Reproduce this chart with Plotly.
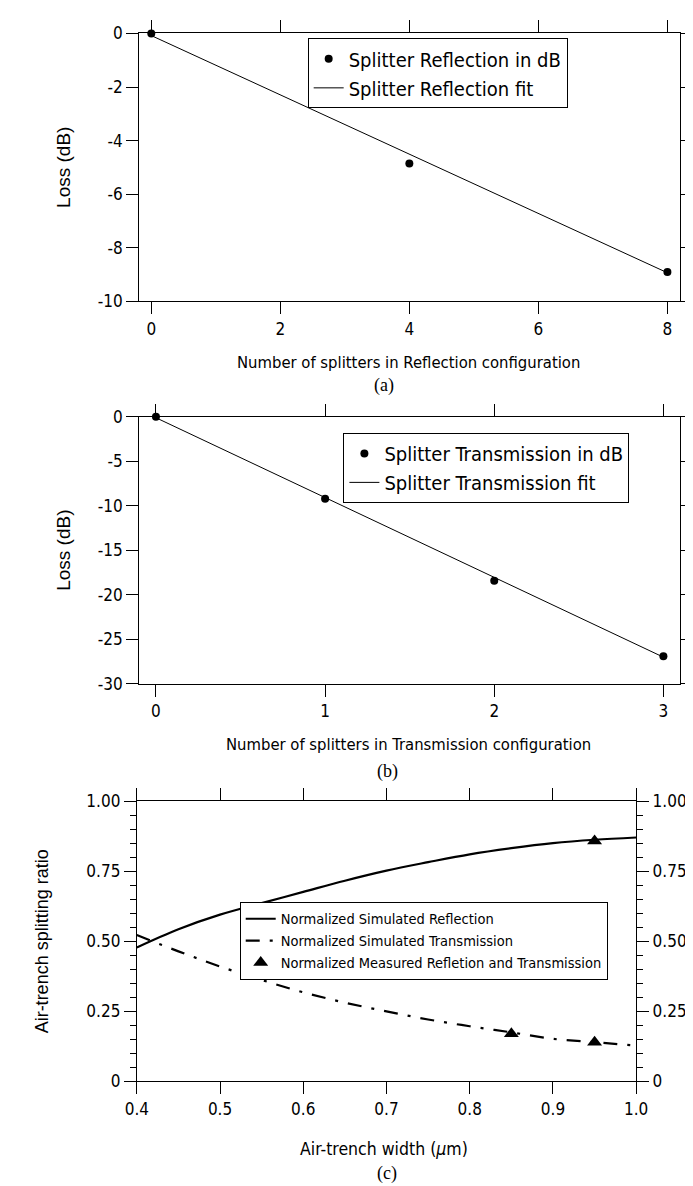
import plotly.graph_objects as go

# ---------------- data ----------------
# (a) reflection configuration
refl_splitters = [0, 4, 8]
refl_loss_db = [0.0, -4.85, -8.9]
refl_fit_x = [0, 8]
refl_fit_y = [-0.08, -8.93]
refl_ticks_x = [0, 2, 4, 6, 8]
refl_ticks_y = [0, -2, -4, -6, -8, -10]

# (b) transmission configuration
trans_splitters = [0, 1, 2, 3]
trans_loss_db = [0.0, -9.2, -18.4, -26.9]
trans_fit_x = [0, 3]
trans_fit_y = [-0.1, -27.0]
trans_ticks_x = [0, 1, 2, 3]
trans_ticks_y = [0, -5, -10, -15, -20, -25, -30]

# (c) air-trench splitting ratio
trench_width = [0.40, 0.45, 0.50, 0.55, 0.60, 0.65, 0.70, 0.75, 0.80, 0.85, 0.90, 0.95, 1.00]
sim_reflection = [0.478, 0.543, 0.595, 0.636, 0.676, 0.716, 0.752, 0.782, 0.810, 0.832, 0.850, 0.862, 0.870]
sim_transmission = [0.522, 0.464, 0.410, 0.362, 0.318, 0.281, 0.250, 0.221, 0.197, 0.175, 0.152, 0.140, 0.128]
meas_width = [0.85, 0.95, 0.95]
meas_ratio = [0.170, 0.140, 0.858]
ratio_ticks = [0, 0.25, 0.5, 0.75, 1.0]
ratio_ticktext = ["0", "0.25", "0.50", "0.75", "1.00"]
ratio_minor_step = 0.05
width_ticks = [0.4, 0.5, 0.6, 0.7, 0.8, 0.9, 1.0]

# ---------------- styling ----------------
W, H = 693, 1186
NARROW = "DejaVu Sans Condensed, Liberation Sans Narrow, Arial Narrow, sans-serif"
SANS = "Liberation Sans, Arial, sans-serif"
SERIF = "Liberation Serif, Times New Roman, serif"
BLACK = "#000000"


def px_x(p):
    return p / W


def px_y(p):
    return 1 - p / H


def hyphen_labels(vals):
    return [str(v) for v in vals]


fig = go.Figure()

# (a)
fig.add_trace(go.Scatter(x=refl_splitters, y=refl_loss_db, mode="markers",
                         marker=dict(symbol="circle", size=8, color=BLACK),
                         name="Splitter Reflection in dB", xaxis="x", yaxis="y",
                         legend="legend", cliponaxis=False))
fig.add_trace(go.Scatter(x=refl_fit_x, y=refl_fit_y, mode="lines",
                         line=dict(color=BLACK, width=1),
                         name="Splitter Reflection fit", xaxis="x", yaxis="y",
                         legend="legend", cliponaxis=False))
# (b)
fig.add_trace(go.Scatter(x=trans_splitters, y=trans_loss_db, mode="markers",
                         marker=dict(symbol="circle", size=8, color=BLACK),
                         name="Splitter Transmission in dB", xaxis="x2", yaxis="y2",
                         legend="legend2", cliponaxis=False))
fig.add_trace(go.Scatter(x=trans_fit_x, y=trans_fit_y, mode="lines",
                         line=dict(color=BLACK, width=1),
                         name="Splitter Transmission fit", xaxis="x2", yaxis="y2",
                         legend="legend2", cliponaxis=False))
# (c)
fig.add_trace(go.Scatter(x=trench_width, y=sim_reflection, mode="lines",
                         line=dict(color=BLACK, width=2.2, shape="spline"),
                         name="Normalized Simulated Reflection", xaxis="x3", yaxis="y3",
                         legend="legend3"))
fig.add_trace(go.Scatter(x=trench_width, y=sim_transmission, mode="lines",
                         line=dict(color=BLACK, width=2.2, shape="spline",
                                   dash="14px,10px,3px,10px"),
                         name="Normalized Simulated Transmission", xaxis="x3", yaxis="y3",
                         legend="legend3"))
fig.add_trace(go.Scatter(x=meas_width, y=meas_ratio, mode="markers",
                         marker=dict(symbol="triangle-up", size=13, color=BLACK),
                         name="Normalized Measured Refletion and Transmission",
                         xaxis="x3", yaxis="y3", legend="legend3", cliponaxis=False))

axis_common = dict(showline=True, linecolor=BLACK, linewidth=1, ticks="outside",
                   ticklen=12, tickwidth=1, tickcolor=BLACK, showgrid=False,
                   zeroline=False, tickfont=dict(family=NARROW, size=17, color=BLACK))

dom_c = [px_y(1081.7), px_y(796.5)]
major_c = dict(domain=dom_c, anchor="x3", overlaying="y3", range=[0, 1],
               tickvals=ratio_ticks, ticktext=ratio_ticktext,
               ticks="outside", ticklen=12, tickwidth=1, tickcolor=BLACK,
               showline=False, showgrid=False, zeroline=False,
               tickfont=dict(family=NARROW, size=17, color=BLACK))

fig.update_layout(
    width=W, height=H, margin=dict(l=0, r=0, t=0, b=0),
    paper_bgcolor="white", plot_bgcolor="white", showlegend=True,
    xaxis=dict(domain=[px_x(123.3), px_x(684)], anchor="y", range=[-0.19, 8.2],
               tickvals=refl_ticks_x, ticktext=hyphen_labels(refl_ticks_x),
               mirror="ticks", **axis_common),
    yaxis=dict(domain=[px_y(288.3), px_y(15.7)], anchor="x", range=[-10, 0],
               tickvals=refl_ticks_y, ticktext=hyphen_labels(refl_ticks_y),
               mirror="ticks", **axis_common),
    xaxis2=dict(domain=[px_x(123.3), px_x(684)], anchor="y2", range=[-0.1, 3.1],
                tickvals=trans_ticks_x, ticktext=hyphen_labels(trans_ticks_x),
                mirror="ticks", **axis_common),
    yaxis2=dict(domain=[px_y(677.3), px_y(405.7)], anchor="x2", range=[-30, 0],
                tickvals=trans_ticks_y, ticktext=hyphen_labels(trans_ticks_y),
                mirror="ticks", **axis_common),
    xaxis3=dict(domain=[px_x(121), px_x(638.3)], anchor="y3", range=[0.4, 1.0],
                tickvals=width_ticks, ticktext=[f"{v:.1f}" for v in width_ticks],
                mirror="ticks", **axis_common),
    # base axis of panel (c): frame + small ticks every 0.05 on both sides
    yaxis3=dict(domain=dom_c, anchor="x3", range=[0, 1],
                tickmode="linear", tick0=0, dtick=ratio_minor_step,
                ticks="outside", ticklen=6, tickwidth=1, tickcolor=BLACK,
                showticklabels=False, showline=True, linecolor=BLACK, linewidth=1,
                mirror="ticks", showgrid=False, zeroline=False),
    # labelled major ticks, left and right
    yaxis4=dict(side="left", **major_c),
    yaxis5=dict(side="right", **major_c),
    legend=dict(x=px_x(298), y=px_y(20.7), xanchor="left", yanchor="top",
                bgcolor="white", bordercolor=BLACK, borderwidth=1,
                font=dict(family=NARROW, size=20, color=BLACK), tracegroupgap=0),
    legend2=dict(x=px_x(335), y=px_y(422), xanchor="left", yanchor="top",
                 bgcolor="white", bordercolor=BLACK, borderwidth=1,
                 font=dict(family=NARROW, size=20, color=BLACK), tracegroupgap=0),
    legend3=dict(x=px_x(227.6), y=px_y(899), xanchor="left", yanchor="top",
                 bgcolor="white", bordercolor=BLACK, borderwidth=1,
                 font=dict(family=NARROW, size=14.5, color=BLACK), tracegroupgap=0),
)

# invisible traces to activate the extra y axes of panel (c)
for ax in ["y4", "y5"]:
    fig.add_trace(go.Scatter(x=[trench_width[0]], y=[ratio_ticks[0]], xaxis="x3", yaxis=ax,
                             mode="markers", marker=dict(opacity=0),
                             showlegend=False, hoverinfo="skip"))

annotations = [
    ("Loss (dB)", 45, 152, SANS, 19, -90),
    ("Loss (dB)", 45, 541.5, SANS, 19, -90),
    ("Air-trench splitting ratio", 23, 939, SANS, 18, -90),
    ("Number of splitters in Reflection configuration", 402, 350, NARROW, 16.5, 0),
    ("Number of splitters in Transmission configuration", 402.6, 739, NARROW, 16.5, 0),
    ("Air-trench width (<i>μ</i>m)", 377, 1150, NARROW, 17.5, 0),
    ("(a)", 377, 374, SERIF, 18, 0),
    ("(b)", 381, 766, SERIF, 18, 0),
    ("(c)", 380, 1175, SERIF, 18, 0),
]
for text, x, y, fam, size, ang in annotations:
    fig.add_annotation(text=text, x=px_x(x), y=px_y(y), xref="paper", yref="paper",
                       xanchor="center", yanchor="middle", showarrow=False,
                       textangle=ang, font=dict(family=fam, size=size, color=BLACK))

fig.write_html("out.html")
